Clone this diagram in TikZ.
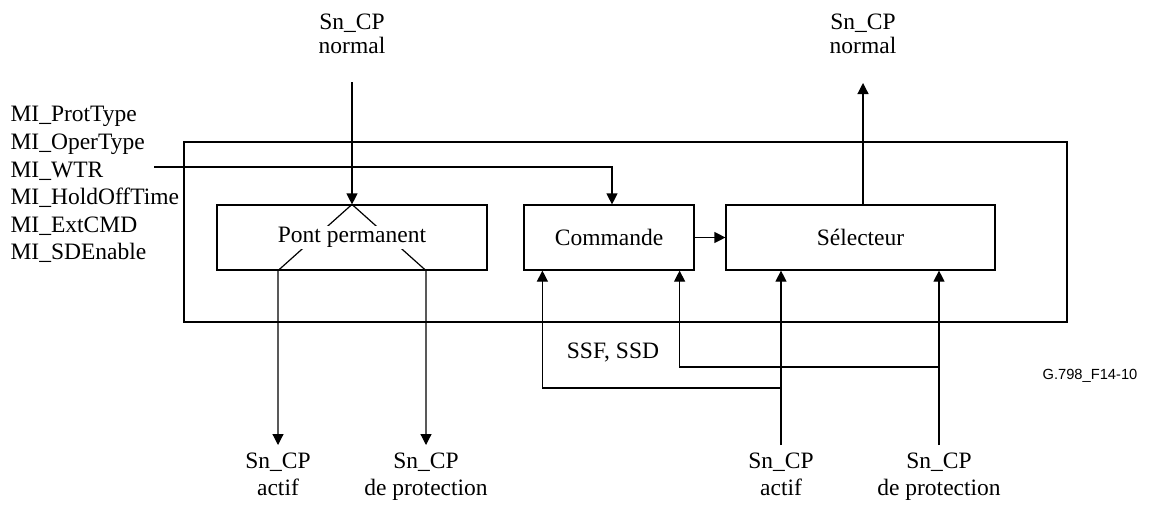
\documentclass[tikz,border=0pt]{standalone}
\usepackage{fontspec}
\setmainfont{Liberation Serif}
\newfontfamily\labelsans{Liberation Sans}
\usetikzlibrary{arrows.meta,calc}
\begin{document}
\begin{tikzpicture}[x=1pt,y=-1pt,
  line width=1.2pt,
  box/.style={draw, rectangle, minimum height=65pt, inner sep=0pt},
  txt/.style={font=\fontsize{23.5}{27.6}\selectfont, inner sep=0pt, align=center},
  toplbl/.style={txt, font=\fontsize{23.5}{24}\selectfont, anchor=north},
  botlbl/.style={txt, anchor=north},
  arr/.style={-{Triangle[length=11pt,width=11pt]}},
]
\useasboundingbox (0,0) rectangle (1150,504);

% outer box
\node[draw, minimum width=883pt, minimum height=180pt, inner sep=0pt] (outer) at (625.5,232) {};

% blocks
\node[box, minimum width=270pt] (pont) at (352,237.5) {};
\node[box, txt, minimum width=170pt, minimum height=65pt] (cmd) at (609,237.5) {Commande};
\node[box, txt, minimum width=269pt, minimum height=65pt] (sel) at (860.5,237.5) {Sélecteur};

% labels
\node[txt, align=left, anchor=north west] (mi) at (10,106) {MI\_ProtType\\MI\_OperType\\MI\_WTR\\MI\_HoldOffTime\\MI\_ExtCMD\\MI\_SDEnable};
\node[toplbl] (inN) at (352,13.5) {Sn\_CP\\normal};
\node[toplbl] (outN) at (863,13.5) {Sn\_CP\\normal};
\node[botlbl] (oAct) at (278,452) {Sn\_CP\\actif};
\node[botlbl] (oProt) at (426,452) {Sn\_CP\\de protection};
\node[botlbl] (iAct) at (781,452) {Sn\_CP\\actif};
\node[botlbl] (iProt) at (939,452) {Sn\_CP\\de protection};
\node[txt] (ssf) at (613,353) {SSF, SSD};
\node[font=\labelsans\fontsize{14.7}{16}\selectfont, inner sep=0pt] (fig) at (1090,376) {G.798\_F14-10};

% coordinates
\coordinate (inNend) at (352,82);
\coordinate (outNend) at (863,83);
\coordinate (wtr) at (154,167);
\coordinate (pl) at ($(pont.south)+(-74,0)$);
\coordinate (pr) at ($(pont.south)+(74,0)$);
\coordinate (jA) at ($(iAct.north)+(0,-64)$);
\coordinate (jP) at ($(iProt.north)+(0,-85)$);

% connectors
\draw[arr] (inNend) -- (pont.north);
\draw[arr] ($(sel.north)+(2.5,0)$) -- (outNend);
\draw[arr] (wtr) -| ($(cmd.north)+(3,0)$);
\draw[arr] (cmd.east) -- (sel.west);

\draw[arr] (pont.north) -- (pl) -- ($(oAct.north)+(0,-7)$);
\draw[arr] (pont.north) -- (pr) -- ($(oProt.north)+(0,-7)$);
\node[txt, fill=white, inner sep=1.5pt] (ponttxt) at (pont.center) {Pont permanent};

\draw[arr] (iAct.north) ++(0,-7) -- (sel.south -| iAct.north);
\draw[arr] (iProt.north) ++(0,-7) -- (sel.south -| iProt.north);
\draw[arr] (jA) -| ($(cmd.south west)+(19,0)$);
\draw[arr] (jP) -| ($(cmd.south east)+(-15,0)$);
\end{tikzpicture}
\end{document}
